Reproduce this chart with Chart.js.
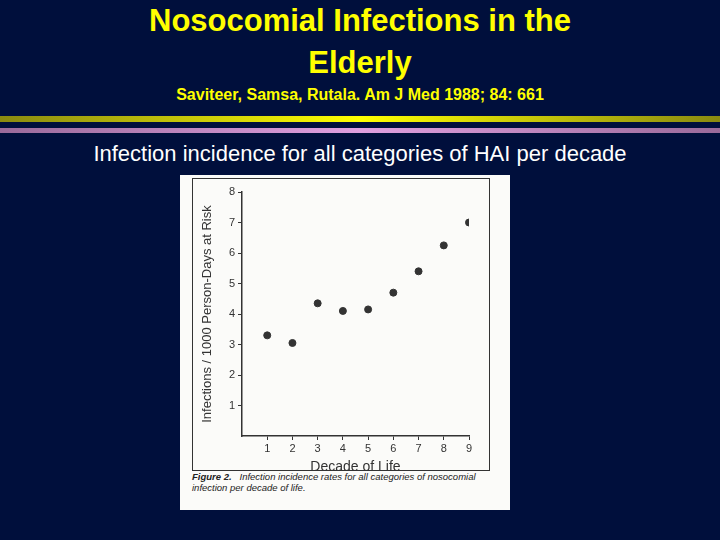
<!DOCTYPE html>
<html>
<head>
<meta charset="utf-8">
<script src="https://cdn.jsdelivr.net/npm/chart.js@4"></script>
<style>
  body { margin: 0; width: 720px; height: 540px; background: #000f3c; overflow: hidden; font-family: "Liberation Sans", Arial, sans-serif; position: relative; }
  .t { position: absolute; left: 0; width: 720px; text-align: center; }
  #title { top: 0; color: #ffff00; font-weight: bold; font-size: 31px; line-height: 42px; }
  #ref { top: 86px; color: #ffff00; font-weight: bold; font-size: 16px; }
  #bar1 { position: absolute; left: 0; top: 116px; width: 720px; height: 6px; background: linear-gradient(90deg,#8a8a10,#ffff00 50%,#8a8a10); }
  #bar2 { position: absolute; left: 0; top: 128px; width: 720px; height: 5px; background: linear-gradient(90deg,#9a6a9a,#e0a0e0 50%,#9a6a9a); }
  #sub { top: 139px; color: #ffffff; font-size: 22px; line-height: 30px; }
  #fig { position: absolute; left: 180px; top: 175px; width: 330px; height: 335px; background: #fbfbf9; }
  #frame { position: absolute; left: 12px; top: 3px; width: 296px; height: 291px; border: 1px solid #333; }
  #cap { position: absolute; left: 12px; top: 296px; width: 306px; font-size: 9.5px; font-style: italic; color: #222; line-height: 11px; }
  #wrap { position: absolute; left: 200px; top: 180px; width: 300px; height: 296px; }
</style>
</head>
<body>
<div class="t" id="title">Nosocomial Infections in the<br>Elderly</div>
<div class="t" id="ref">Saviteer, Samsa, Rutala. Am J Med 1988; 84: 661</div>
<div id="bar1"></div>
<div id="bar2"></div>
<div class="t" id="sub">Infection incidence for all categories of HAI per decade<br>of life</div>
<div id="fig">
  <div id="frame"></div>
  <div id="cap"><b>Figure 2.</b>&nbsp;&nbsp; Infection incidence rates for all categories of nosocomial infection per decade of life.</div>
</div>
<div id="wrap"><canvas id="c"></canvas></div>
<script>
// Данные графика
const decades = [1, 2, 3, 4, 5, 6, 7, 8, 9];
const rates = [3.3, 3.05, 4.35, 4.1, 4.15, 4.7, 5.4, 6.25, 7.0];
const yTicks = [1, 2, 3, 4, 5, 6, 7, 8];

const ink = '#333';
new Chart(document.getElementById('c'), {
  type: 'scatter',
  data: {
    datasets: [{
      data: decades.map((d, i) => ({ x: d, y: rates[i] })),
      backgroundColor: '#333',
      borderColor: '#333',
      pointRadius: 3.5
    }]
  },
  options: {
    responsive: true,
    maintainAspectRatio: false,
    animation: false,
    layout: { padding: { top: 12, right: 31 } },
    plugins: { legend: { display: false }, tooltip: { enabled: false } },
    scales: {
      x: {
        type: 'linear', min: 0, max: 9,
        afterBuildTicks: a => { a.ticks = decades.map(v => ({ value: v })); },
        afterFit: a => { a.height = 40; },
        grid: { drawOnChartArea: false, drawTicks: true, tickLength: 4, color: ink },
        border: { color: ink, width: 1.5 },
        ticks: { color: ink, font: { size: 11 }, padding: 2 },
        title: { display: true, text: 'Decade of Life', color: ink, font: { size: 14 }, padding: 0 }
      },
      y: {
        min: 0, max: 8,
        afterBuildTicks: a => { a.ticks = yTicks.map(v => ({ value: v })); },
        afterFit: a => { a.width = 42; },
        grid: { drawOnChartArea: false, drawTicks: true, tickLength: 4, color: ink },
        border: { color: ink, width: 1.5 },
        ticks: { color: ink, font: { size: 11 }, padding: 3 },
        title: { display: true, text: 'Infections / 1000 Person-Days at Risk', color: ink, font: { size: 13 }, padding: 0 }
      }
    }
  }
});
</script>
</body>
</html>
